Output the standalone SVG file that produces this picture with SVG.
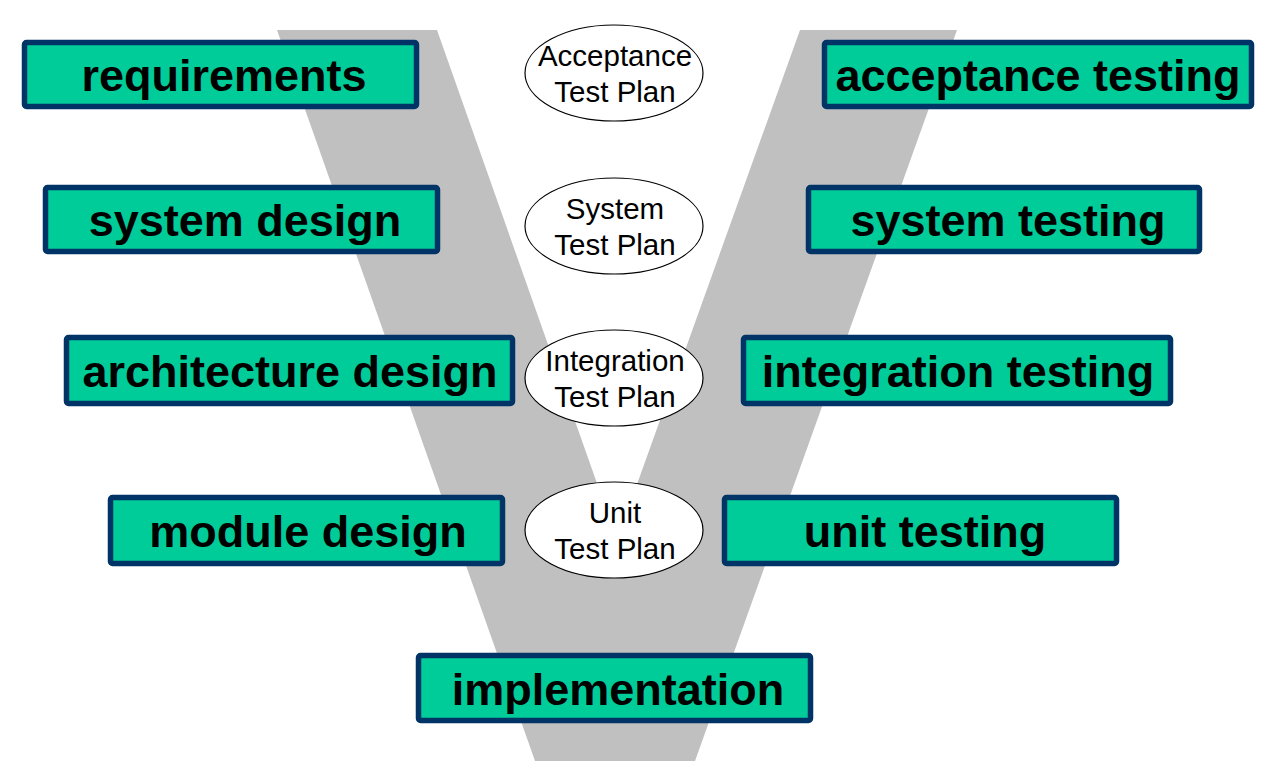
<svg xmlns="http://www.w3.org/2000/svg" width="1274" height="780" viewBox="0 0 1274 780">
<style>
.box{fill:#00CC99;stroke:#003366;stroke-width:5.5;}
.bt{font-family:"Liberation Sans",Arial,sans-serif;font-weight:bold;font-size:45px;fill:#000;text-anchor:middle;}
.ell{fill:#fff;stroke:#000;stroke-width:1.2;}
.et{font-family:"Liberation Sans",Arial,sans-serif;font-size:29.5px;fill:#000;text-anchor:middle;}
</style>
<rect width="1274" height="780" fill="#fff"/>
<polygon id="v" fill="#C0C0C0" points="277,30 437,30 617,540 800,30 957,30 695,761 535,761"/>
<g id="connectors"></g>
<g id="requirements"><rect class="box" x="24.5" y="42.5" width="392" height="64" rx="2"/><text class="bt" x="224" y="91">requirements</text></g>
<g id="system-design"><rect class="box" x="45.5" y="187.5" width="392" height="64" rx="2"/><text class="bt" x="245" y="236">system design</text></g>
<g id="architecture-design"><rect class="box" x="66.5" y="337.5" width="446" height="66" rx="2"/><text class="bt" x="290" y="387">architecture design</text></g>
<g id="module-design"><rect class="box" x="110.5" y="497.5" width="392" height="66" rx="2"/><text class="bt" x="308" y="547">module design</text></g>
<g id="implementation"><rect class="box" x="418.5" y="655.5" width="392" height="65" rx="2"/><text class="bt" x="618" y="705">implementation</text></g>
<g id="acceptance-testing"><rect class="box" x="824.5" y="42.5" width="427" height="64" rx="2"/><text class="bt" x="1038" y="91">acceptance testing</text></g>
<g id="system-testing"><rect class="box" x="808.5" y="187.5" width="391" height="64" rx="2"/><text class="bt" x="1008" y="236">system testing</text></g>
<g id="integration-testing"><rect class="box" x="743.5" y="337.5" width="427" height="66" rx="2"/><text class="bt" x="958" y="387">integration testing</text></g>
<g id="unit-testing"><rect class="box" x="724.5" y="497.5" width="392" height="66" rx="2"/><text class="bt" x="925" y="547">unit testing</text></g>
<g id="acceptance-test-plan"><ellipse class="ell" cx="614" cy="73" rx="89" ry="48"/><text class="et" x="615" y="66">Acceptance</text><text class="et" x="615" y="102">Test Plan</text></g>
<g id="system-test-plan"><ellipse class="ell" cx="614" cy="226" rx="89" ry="48"/><text class="et" x="615" y="219">System</text><text class="et" x="615" y="255">Test Plan</text></g>
<g id="integration-test-plan"><ellipse class="ell" cx="614" cy="378" rx="89" ry="48"/><text class="et" x="615" y="371">Integration</text><text class="et" x="615" y="407">Test Plan</text></g>
<g id="unit-test-plan"><ellipse class="ell" cx="614" cy="530" rx="89" ry="48"/><text class="et" x="615" y="523">Unit</text><text class="et" x="615" y="559">Test Plan</text></g>
</svg>
